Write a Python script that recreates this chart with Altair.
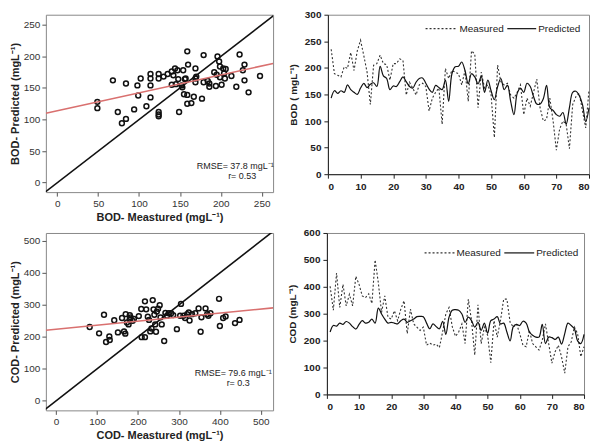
import altair as alt
import pandas as pd

FONT = "Liberation Sans"

# ---------------- scatter data (measured vs predicted) ----------------
bod_sc_measured = [49, 49, 68, 74, 79, 84, 84, 94, 98, 99, 102, 109, 114, 114, 114, 114,
                   124, 124, 124, 124, 124, 130, 135, 140, 140, 142, 144, 147, 145, 148,
                   149, 152, 153, 154, 155, 156, 157, 159, 159, 159, 160, 164, 167, 169,
                   169, 169, 170, 177, 179, 179, 184, 186, 186, 192, 194, 195, 196, 198,
                   199, 199, 201, 203, 204, 205, 206, 213, 219, 223, 227, 229, 229, 234, 248]
bod_sc_predicted = [128, 118, 162, 112, 94, 157, 101, 116, 154, 138, 165, 121, 172, 165, 154, 135,
                    172, 165, 112, 108, 105, 168, 172, 176, 155, 170, 181, 178, 156, 164,
                    112, 154, 151, 178, 140, 164, 165, 139, 208, 125, 187, 126, 136, 181,
                    165, 159, 168, 133, 202, 159, 161, 157, 152, 175, 153, 171, 200, 192,
                    184, 167, 155, 181, 173, 165, 180, 169, 152, 203, 178, 187, 162, 143, 169]

cod_sc_measured = [82, 105, 117, 122, 130, 131, 142, 151, 161, 166, 169, 170, 173, 177, 180, 180,
                   182, 187, 190, 202, 208, 209, 217, 217, 220, 224, 227, 230, 233, 236, 238,
                   240, 242, 244, 246, 249, 253, 255, 258, 264, 267, 271, 275, 281, 286, 295,
                   305, 303, 311, 315, 320, 324, 326, 332, 340, 348, 353, 355, 365, 369, 372,
                   377, 398, 400, 408, 414, 437, 448]
cod_sc_predicted = [231, 211, 269, 184, 201, 190, 252, 214, 259, 217, 210, 271, 245, 239, 268, 255,
                    261, 250, 256, 265, 287, 199, 199, 311, 286, 263, 253, 217, 226, 315, 286,
                    269, 239, 216, 279, 288, 299, 261, 239, 187, 275, 266, 274, 274, 268, 224,
                    303, 266, 266, 259, 271, 276, 251, 271, 274, 289, 216, 261, 289, 271, 266,
                    274, 319, 234, 259, 264, 243, 253]

# fitted (red) lines: intercept, slope
bod_fit = [114, 0.283]
cod_fit = [224, 0.126]

# ---------------- time series data ----------------
sample_no = list(range(1, 81))
bod_measured = [235, 189, 186, 183, 202, 199, 229, 195, 232, 252, 223, 192, 131, 205, 208, 224,
                208, 206, 177, 208, 208, 217, 214, 149, 173, 162, 149, 168, 171, 165, 119, 143,
                154, 162, 94, 199, 180, 195, 192, 189, 168, 195, 137, 232, 226, 125, 192, 162,
                168, 149, 69, 205, 174, 168, 171, 149, 143, 154, 168, 112, 143, 128, 154, 179,
                125, 100, 103, 143, 100, 45, 85, 100, 94, 48, 131, 146, 152, 119, 87, 159]
bod_predicted = [143, 157, 152, 157, 154, 168, 159, 154, 150, 162, 171, 163, 169, 172, 165, 203,
                 185, 180, 159, 166, 165, 174, 183, 174, 165, 162, 173, 180, 181, 171, 160, 154,
                 167, 163, 159, 177, 137, 189, 202, 203, 211, 195, 170, 189, 183, 170, 184, 154,
                 177, 157, 140, 165, 180, 159, 167, 137, 112, 152, 162, 154, 171, 165, 146, 132,
                 132, 142, 167, 125, 120, 112, 109, 116, 94, 125, 154, 156, 148, 131, 99, 125]
cod_measured = [402, 313, 451, 323, 409, 329, 372, 329, 439, 409, 366, 360, 374, 338, 500, 415,
                305, 366, 287, 280, 311, 274, 317, 348, 226, 317, 262, 250, 238, 250, 183, 191,
                183, 187, 174, 232, 299, 323, 252, 216, 232, 262, 189, 354, 274, 146, 333, 189,
                250, 220, 118, 274, 213, 274, 354, 354, 268, 250, 262, 226, 183, 177, 238, 189,
                177, 165, 201, 262, 189, 116, 159, 183, 140, 79, 177, 195, 250, 226, 140, 177]
cod_predicted = [232, 256, 254, 265, 260, 271, 265, 252, 243, 260, 274, 265, 268, 280, 265, 321,
                 299, 280, 265, 268, 265, 262, 274, 280, 268, 274, 280, 289, 290, 289, 265, 244,
                 262, 252, 244, 272, 223, 287, 313, 315, 313, 299, 268, 287, 274, 250, 268, 238,
                 265, 228, 274, 280, 289, 262, 265, 232, 199, 252, 260, 256, 272, 265, 232, 220,
                 213, 213, 260, 189, 213, 211, 204, 213, 187, 226, 265, 256, 244, 199, 189, 223]

series_names = ["Measured", "Predicted"]


def scatter_panel(xs, ys, dom_x, dom_y, ticks, fit, xtitle, ytitle, rmse_txt, r_txt,
                  w, h, ann):
    df = pd.DataFrame({"m": xs, "p": ys})
    xsc = alt.Scale(domain=dom_x, nice=False, zero=False)
    ysc = alt.Scale(domain=dom_y, nice=False, zero=False)
    common_ax = dict(values=ticks, grid=False, domain=False, tickColor="#555", tickSize=4,
                     labelColor="#333", labelFont=FONT, labelFontSize=10, labelPadding=2,
                     labelOverlap=False,
                     titleFont=FONT, titleFontSize=11, titleFontWeight="bold",
                     titleColor="#222")
    xax = alt.Axis(title=xtitle, titlePadding=3, **common_ax)
    yax = alt.Axis(title=ytitle, titlePadding=3, **common_ax)
    X = alt.X("m:Q", scale=xsc, axis=xax)
    Y = alt.Y("p:Q", scale=ysc, axis=yax)
    pts = alt.Chart(df).mark_point(shape="circle", filled=False, color="#111", size=24,
                                   strokeWidth=1.5, opacity=1).encode(x=X, y=Y)
    lo = min(dom_x[0], dom_y[0]) - 20
    hi = max(dom_x[1], dom_y[1]) + 20
    diag_df = pd.DataFrame({"m": [lo, hi], "p": [lo, hi]})
    diag = alt.Chart(diag_df).mark_line(color="#111", strokeWidth=1.6, clip=True).encode(
        x=X, y=Y)
    fit_df = pd.DataFrame({"m": [dom_x[0], dom_x[1]]})
    fitl = alt.Chart(fit_df).transform_calculate(
        p=f"{fit[0]} + {fit[1]} * datum.m"
    ).mark_line(color="#d9706f", strokeWidth=1.6, clip=True).encode(x=X, y=Y)
    t1 = alt.Chart(pd.DataFrame({"t": [rmse_txt]})).mark_text(
        font=FONT, fontSize=9, color="#222", align="center").encode(
        x=alt.value(ann[0]), y=alt.value(ann[1]), text="t:N")
    t2 = alt.Chart(pd.DataFrame({"t": [r_txt]})).mark_text(
        font=FONT, fontSize=9, color="#222", align="center").encode(
        x=alt.value(ann[2]), y=alt.value(ann[3]), text="t:N")
    return alt.layer(pts, diag, fitl, t1, t2).properties(width=w, height=h)


def series_panel(meas, pred, ymax, ystep, ytitle, w, h, leg):
    n = len(sample_no)
    df = pd.DataFrame({"x": sample_no + sample_no, "y": meas + pred,
                       "s": [series_names[0]] * n + [series_names[1]] * n})
    xsc = alt.Scale(domain=[0, 80], nice=False)
    ysc = alt.Scale(domain=[0, ymax], nice=False)
    common_ax = dict(grid=False, domain=True, domainColor="#222", tickColor="#222", tickSize=4,
                     labelColor="#222", labelFont=FONT, labelFontSize=10,
                     labelFontWeight="bold", labelPadding=3, labelOverlap=False)
    xax = alt.Axis(values=list(range(0, 81, 10)), title=None, **common_ax)
    yax = alt.Axis(values=list(range(0, ymax + 1, ystep)), title=ytitle, titleFont=FONT,
                   titleFontSize=10, titleFontWeight="bold", titleColor="#222",
                   titlePadding=6, **common_ax)
    base = alt.Chart(df).encode(x=alt.X("x:Q", scale=xsc, axis=xax),
                                y=alt.Y("y:Q", scale=ysc, axis=yax))
    m = base.transform_filter(alt.datum.s == series_names[0]).mark_line(
        color="#333", strokeWidth=1.1, strokeDash=[2, 2])
    p = base.transform_filter(alt.datum.s == series_names[1]).mark_line(
        color="#111", strokeWidth=1.2, interpolate="catmull-rom")
    # manual legend (leg = [x0, x1, text_x, x2, x3, text_x2, y])
    ldf_m = pd.DataFrame({"s": [series_names[0]]})
    ldf_p = pd.DataFrame({"s": [series_names[1]]})
    r1 = alt.Chart(ldf_m).mark_rule(color="#333", strokeWidth=1.1, strokeDash=[2, 2]).encode(
        x=alt.value(leg[0]), x2=alt.value(leg[1]), y=alt.value(leg[6]))
    l1 = alt.Chart(ldf_m).mark_text(font=FONT, fontSize=10, color="#222", align="left",
                                    baseline="middle").encode(
        x=alt.value(leg[2]), y=alt.value(leg[6]), text="s:N")
    r2 = alt.Chart(ldf_p).mark_rule(color="#111", strokeWidth=1.2).encode(
        x=alt.value(leg[3]), x2=alt.value(leg[4]), y=alt.value(leg[6]))
    l2 = alt.Chart(ldf_p).mark_text(font=FONT, fontSize=10, color="#222", align="left",
                                    baseline="middle").encode(
        x=alt.value(leg[5]), y=alt.value(leg[6]), text="s:N")
    return alt.layer(m, p, r1, l1, r2, l2).properties(width=w, height=h)


tl = scatter_panel(bod_sc_measured, bod_sc_predicted, [-14, 264], [-15, 266],
                   list(range(0, 251, 50)), bod_fit,
                   "BOD- Meastured (mgL\u207b\u00b9)", "BOD- Predicted (mgL\u207b\u00b9)",
                   "RMSE= 37.8 mgL\u207b\u00b9", "r= 0.53", 228, 178, [190, 152, 197, 162])
bl = scatter_panel(cod_sc_measured, cod_sc_predicted, [-25, 530], [-30, 525],
                   list(range(0, 501, 100)), cod_fit,
                   "COD- Meastured (mgL\u207b\u00b9)", "COD- Predicted (mgL\u207b\u00b9)",
                   "RMSE= 79.6 mgL\u207b\u00b9", "r= 0.3", 228, 178, [188, 141, 193, 151])
tr = series_panel(bod_measured, bod_predicted, 300, 50, "BOD ( mgL\u207b\u00b9)", 262, 160,
                  [98, 130, 132, 180, 209, 211, 14])
br = series_panel(cod_measured, cod_predicted, 600, 100, "COD (mgL\u207b\u00b9)", 258, 162,
                  [98, 128, 130, 178, 208, 210, 20])

chart = alt.vconcat(
    alt.hconcat(tl, tr, spacing=12),
    alt.hconcat(bl, br, spacing=12),
    spacing=4,
).properties(
    padding=0, background="white"
).configure_view(stroke="#888", strokeWidth=1)

chart.save("out.html", embed_options={"renderer": "svg", "actions": False})
